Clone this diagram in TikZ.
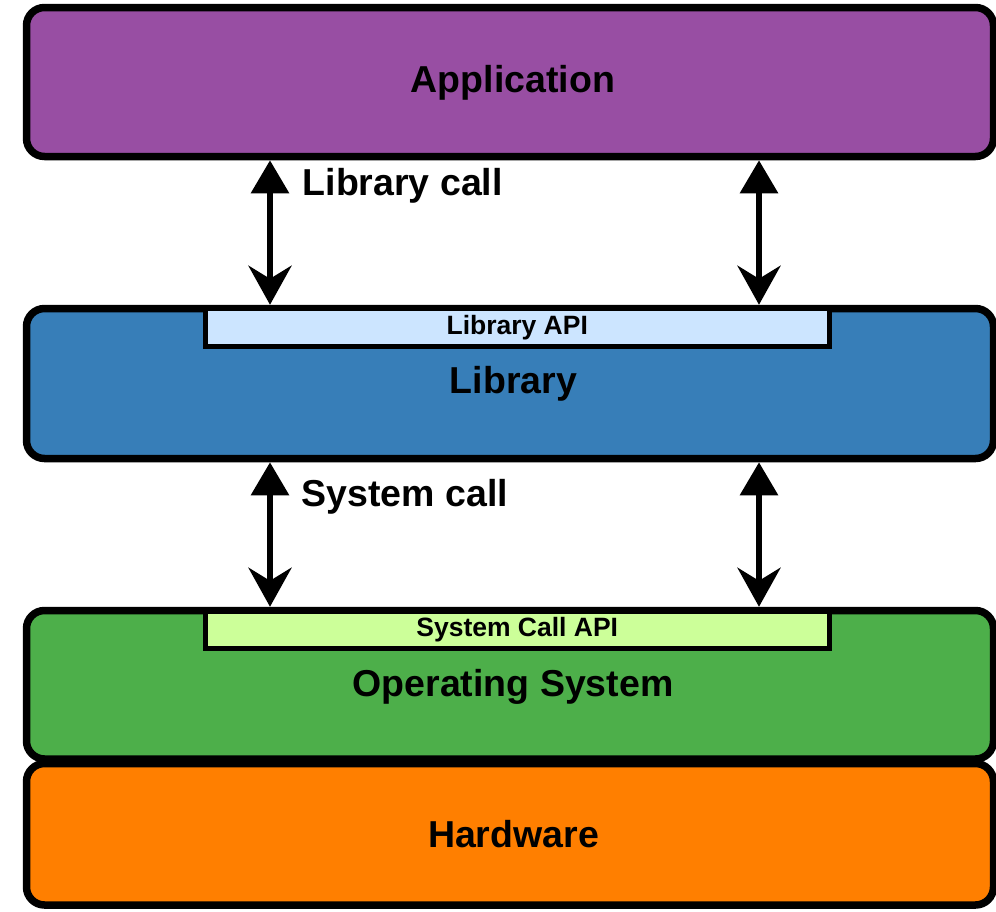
\documentclass[tikz,border=0pt]{standalone}
\usepackage{fontspec}
\setmainfont{Liberation Sans}
\usetikzlibrary{arrows.meta}
\definecolor{cApp}{RGB}{152,78,163}
\definecolor{cLib}{RGB}{55,126,184}
\definecolor{cOS}{RGB}{77,175,74}
\definecolor{cHW}{RGB}{255,127,0}
\definecolor{cLibApi}{RGB}{204,229,255}
\definecolor{cSysApi}{RGB}{204,255,153}
\tikzset{
  layer/.style={draw=black, line width=7.5pt, rounded corners=18pt, inner sep=0pt,
    minimum width=967pt},
  bigtxt/.style={inner sep=0pt, font=\fontsize{37.5}{45}\selectfont\bfseries},
  apibox/.style={draw=black, line width=5pt, inner sep=0pt, minimum width=623.5pt,
    minimum height=37.5pt, font=\fontsize{26.5}{32}\selectfont\bfseries},
  lbl/.style={inner sep=0pt, anchor=west, font=\fontsize{37.5}{45}\selectfont\bfseries},
  dblarrow/.style={line width=6pt, {Triangle[width=37pt,length=33pt]}-{Stealth[width=43pt,length=39pt,inset=13pt]}}
}
\begin{document}
\begin{tikzpicture}[x=1pt,y=-1pt]
\useasboundingbox (0,0) rectangle (996,911);
\node[layer, fill=cApp, minimum height=149pt] (app) at (510,82) {};
\node[bigtxt] (apptxt) at (513,83) {Application};
\node[layer, fill=cLib, minimum height=150pt] (lib) at (510,383.5) {};
\node[apibox, fill=cLibApi] (libapi) at (517.25,327.25) {Library API};
\node[bigtxt] (libtxt) at (513.5,384) {Library};
\node[layer, fill=cHW, minimum height=141.5pt] (hw) at (510,834.25) {};
\node[bigtxt] (hwtxt) at (513.5,834) {Hardware};
\node[layer, fill=cOS, minimum height=148.5pt] (os) at (510,684.75) {};
\node[apibox, fill=cSysApi] (sysapi) at (517.25,629.75) {System Call API};
\node[bigtxt] (ostxt) at (513,686.5) {Operating System};
\coordinate (xl) at (270,0);
\coordinate (xr) at (759,0);
\draw[dblarrow] (app.south -| xl) -- (lib.north -| xl);
\draw[dblarrow] (app.south -| xr) -- (lib.north -| xr);
\draw[dblarrow] (lib.south -| xl) -- (os.north -| xl);
\draw[dblarrow] (lib.south -| xr) -- (os.north -| xr);
\node[lbl] (lcall) at (302.5,186) {Library call};
\node[lbl] (scall) at (301.5,497) {System call};
\end{tikzpicture}
\end{document}
